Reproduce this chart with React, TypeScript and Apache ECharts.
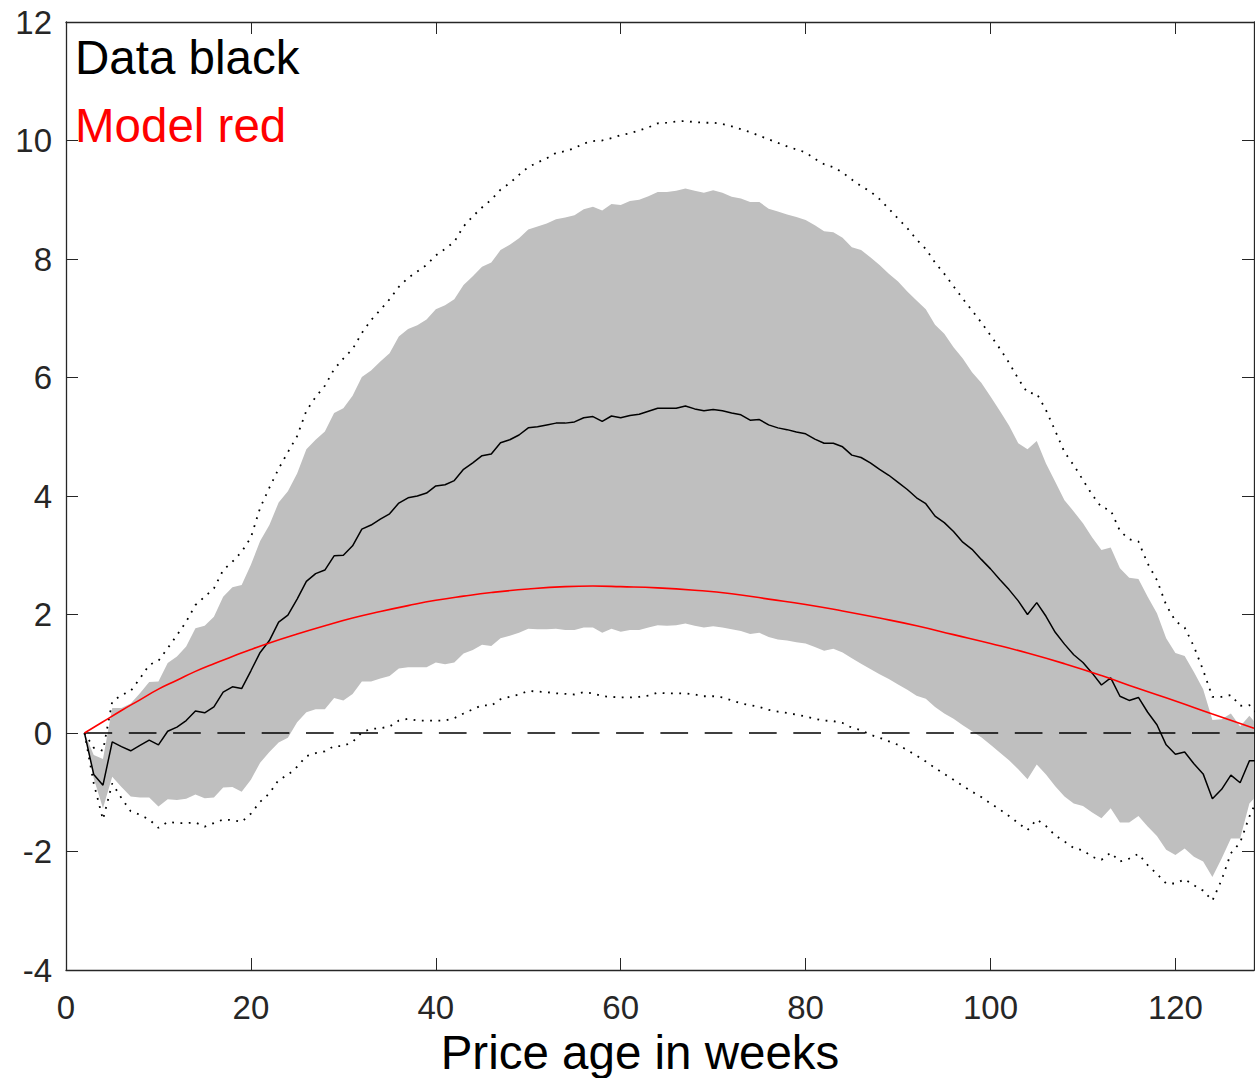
import { useEffect, useRef } from "react";
import * as echarts from "echarts";

// x: price age in weeks
const weeks = [
  2, 3, 4, 5, 6, 7, 8, 9, 10, 11, 12, 13, 14, 15, 16, 17, 18, 19, 20, 21,
  22, 23, 24, 25, 26, 27, 28, 29, 30, 31, 32, 33, 34, 35, 36, 37, 38, 39, 40, 41,
  42, 43, 44, 45, 46, 47, 48, 49, 50, 51, 52, 53, 54, 55, 56, 57, 58, 59, 60, 61,
  62, 63, 64, 65, 66, 67, 68, 69, 70, 71, 72, 73, 74, 75, 76, 77, 78, 79, 80, 81,
  82, 83, 84, 85, 86, 87, 88, 89, 90, 91, 92, 93, 94, 95, 96, 97, 98, 99, 100, 101,
  102, 103, 104, 105, 106, 107, 108, 109, 110, 111, 112, 113, 114, 115, 116, 117, 118, 119, 120, 121,
  122, 123, 124, 125, 126, 127, 128, 129,
];

// Data (black line)
const dataMean = [
  0, -0.7, -0.88, -0.15, -0.23, -0.3, -0.21, -0.12, -0.2, 0.03, 0.1, 0.21, 0.37, 0.34, 0.44, 0.69, 0.78, 0.75, 1.05, 1.36,
  1.56, 1.87, 1.99, 2.26, 2.56, 2.69, 2.75, 2.99, 3.0, 3.16, 3.44, 3.51, 3.61, 3.7, 3.88, 3.97, 4.0, 4.05, 4.17, 4.19,
  4.26, 4.45, 4.56, 4.68, 4.71, 4.9, 4.95, 5.03, 5.15, 5.17, 5.2, 5.23, 5.23, 5.25, 5.32, 5.34, 5.26, 5.35, 5.32, 5.36,
  5.38, 5.43, 5.48, 5.48, 5.48, 5.52, 5.47, 5.44, 5.46, 5.44, 5.4, 5.37, 5.28, 5.29, 5.2, 5.15, 5.12, 5.08, 5.05, 4.96,
  4.89, 4.89, 4.83, 4.69, 4.65, 4.56, 4.45, 4.35, 4.23, 4.11, 3.97, 3.87, 3.66, 3.55, 3.4, 3.22, 3.1, 2.93, 2.77, 2.59,
  2.42, 2.23, 2.0, 2.2, 1.97, 1.7, 1.5, 1.32, 1.19, 1.01, 0.81, 0.93, 0.62, 0.55, 0.6, 0.35, 0.14, -0.2, -0.36, -0.32,
  -0.52, -0.69, -1.11, -0.95, -0.71, -0.84, -0.47, -0.47,
];

// Grey band, upper edge
const bandUpper = [
  0, -0.37, -0.44, 0.42, 0.42, 0.5, 0.67, 0.86, 0.87, 1.18, 1.29, 1.46, 1.77, 1.81, 1.96, 2.3, 2.46, 2.5, 2.84, 3.24,
  3.51, 3.89, 4.08, 4.38, 4.79, 4.95, 5.09, 5.4, 5.48, 5.69, 6.01, 6.12, 6.27, 6.41, 6.69, 6.82, 6.88, 6.98, 7.15, 7.22,
  7.32, 7.56, 7.71, 7.87, 7.94, 8.15, 8.24, 8.35, 8.5, 8.55, 8.6, 8.67, 8.7, 8.74, 8.84, 8.88, 8.82, 8.93, 8.91, 8.98,
  9.0, 9.06, 9.13, 9.13, 9.15, 9.19, 9.15, 9.12, 9.16, 9.12, 9.05, 9.02, 8.96, 8.96, 8.85, 8.8, 8.75, 8.71, 8.66, 8.57,
  8.47, 8.45, 8.36, 8.2, 8.15, 8.03, 7.9, 7.75, 7.62, 7.45, 7.3, 7.15, 6.89, 6.74, 6.51, 6.32, 6.09, 5.91, 5.68, 5.44,
  5.19, 4.89, 4.79, 4.93, 4.55, 4.24, 3.93, 3.74, 3.54, 3.3, 3.09, 3.13, 2.78, 2.62, 2.6, 2.3, 2.02, 1.6, 1.35, 1.3,
  1.03, 0.74, 0.22, 0.23, 0.33, 0.11, 0.29, 0.11,
];

// Grey band, lower edge
const bandLower = [
  0, -0.77, -1.27, -0.74, -0.91, -1.07, -1.09, -1.09, -1.24, -1.12, -1.13, -1.11, -1.04, -1.1, -1.09, -0.92, -0.91, -0.99, -0.79, -0.5,
  -0.32, -0.16, -0.08, 0.18, 0.35, 0.4, 0.4, 0.59, 0.55, 0.66, 0.87, 0.87, 0.92, 0.96, 1.09, 1.11, 1.11, 1.11, 1.19, 1.16,
  1.19, 1.34, 1.4, 1.49, 1.47, 1.6, 1.64, 1.69, 1.76, 1.75, 1.75, 1.76, 1.74, 1.74, 1.78, 1.78, 1.69, 1.76, 1.71, 1.74,
  1.74, 1.78, 1.82, 1.81, 1.82, 1.85, 1.81, 1.78, 1.8, 1.78, 1.75, 1.72, 1.67, 1.69, 1.62, 1.58, 1.56, 1.53, 1.51, 1.45,
  1.39, 1.42, 1.36, 1.26, 1.17, 1.08, 0.99, 0.91, 0.82, 0.73, 0.63, 0.58, 0.44, 0.33, 0.24, 0.13, 0.03, -0.07, -0.2, -0.33,
  -0.46, -0.61, -0.78, -0.53, -0.7, -0.9, -1.07, -1.19, -1.23, -1.34, -1.44, -1.27, -1.51, -1.51, -1.4, -1.58, -1.74, -1.97, -2.06, -1.95,
  -2.09, -2.17, -2.43, -2.12, -1.78, -1.78, -1.19, -1.02,
];

// Dotted upper bound
const dotUpper = [
  0, -0.25, -0.3, 0.53, 0.64, 0.71, 0.92, 1.15, 1.22, 1.43, 1.65, 1.88, 2.16, 2.3, 2.44, 2.75, 2.89, 3.06, 3.3, 3.8,
  4.14, 4.46, 4.74, 5.01, 5.44, 5.67, 5.86, 6.14, 6.32, 6.48, 6.75, 6.97, 7.14, 7.32, 7.53, 7.68, 7.79, 7.9, 8.06, 8.17,
  8.29, 8.55, 8.72, 8.87, 9.0, 9.17, 9.28, 9.42, 9.55, 9.63, 9.7, 9.79, 9.82, 9.87, 9.95, 9.99, 10.0, 10.04, 10.09, 10.12,
  10.17, 10.22, 10.29, 10.3, 10.32, 10.33, 10.31, 10.3, 10.3, 10.28, 10.24, 10.19, 10.14, 10.08, 10.02, 9.96, 9.9, 9.85, 9.8, 9.69,
  9.6, 9.55, 9.46, 9.34, 9.23, 9.14, 9.01, 8.85, 8.68, 8.52, 8.33, 8.17, 7.94, 7.75, 7.54, 7.33, 7.13, 6.93, 6.71, 6.49,
  6.25, 5.98, 5.74, 5.73, 5.45, 5.1, 4.74, 4.52, 4.27, 4.02, 3.81, 3.76, 3.41, 3.27, 3.23, 2.86, 2.58, 2.16, 1.89, 1.78,
  1.46, 1.06, 0.61, 0.61, 0.64, 0.46, 0.47, 0.3,
];

// Dotted lower bound
const dotLower = [
  0, -0.85, -1.46, -0.85, -1.1, -1.32, -1.38, -1.46, -1.6, -1.5, -1.52, -1.52, -1.51, -1.58, -1.52, -1.46, -1.47, -1.5, -1.36, -1.16,
  -1.02, -0.79, -0.71, -0.57, -0.39, -0.34, -0.31, -0.22, -0.22, -0.15, 0.01, 0.07, 0.08, 0.11, 0.21, 0.24, 0.21, 0.21, 0.21, 0.21,
  0.25, 0.33, 0.4, 0.47, 0.46, 0.57, 0.61, 0.65, 0.71, 0.7, 0.69, 0.67, 0.66, 0.65, 0.69, 0.67, 0.62, 0.61, 0.6, 0.6,
  0.61, 0.63, 0.68, 0.67, 0.67, 0.67, 0.65, 0.62, 0.62, 0.6, 0.55, 0.5, 0.47, 0.44, 0.39, 0.36, 0.34, 0.31, 0.28, 0.24,
  0.21, 0.2, 0.17, 0.09, 0.05, -0.03, -0.08, -0.14, -0.2, -0.29, -0.38, -0.48, -0.59, -0.69, -0.79, -0.89, -0.99, -1.08, -1.19, -1.29,
  -1.4, -1.52, -1.64, -1.46, -1.57, -1.73, -1.83, -1.94, -1.98, -2.09, -2.14, -2.02, -2.17, -2.12, -2.04, -2.23, -2.38, -2.54, -2.54, -2.47,
  -2.57, -2.66, -2.83, -2.48, -2.03, -1.85, -1.41, -1.07,
];

// Model (red line)
const modelWeeks = [2, 4, 6, 8, 10, 12, 14, 16, 18, 20, 22, 25, 28, 31, 34, 37, 40, 43, 46, 50, 54, 57, 60, 64, 68, 72, 76, 80, 84, 88, 92, 96, 100, 104, 108, 112, 116, 120, 124, 128.5];
const modelValues = [0, 0.19, 0.38, 0.56, 0.74, 0.89, 1.04, 1.17, 1.29, 1.41, 1.52, 1.67, 1.81, 1.94, 2.05, 2.15, 2.24, 2.31, 2.37, 2.43, 2.47, 2.48, 2.47, 2.45, 2.41, 2.35, 2.26, 2.17, 2.06, 1.94, 1.81, 1.66, 1.51, 1.35, 1.17, 0.97, 0.75, 0.54, 0.32, 0.08];

// Zero reference line
const zeroLineX = [2, 129];
const zeroLineY = [0, 0];

const xTicks = { min: 0, max: 128.5, interval: 20 };
const yTicks = { min: -4, max: 12, interval: 2 };

const FONT = '"Liberation Sans", Arial, Helvetica, sans-serif';
const AXIS = "#262626";

const zip = (xs: number[], ys: number[]) => xs.map((x, i) => [x, ys[i]]);

export default function App() {
  const ref = useRef<HTMLDivElement>(null);

  useEffect(() => {
    document.body.style.margin = "0";
    const chart = echarts.init(ref.current!, null, { renderer: "svg" });

    const axisLine = { show: true, onZero: false, lineStyle: { color: AXIS, width: 1.3 } };
    const axisTick = { show: true, inside: true, length: 12, lineStyle: { color: AXIS, width: 1 } };

    const bandData = weeks.map((w, i) => [w, bandLower[i], bandUpper[i]]);

    const option: any = {
      animation: false,
      backgroundColor: "#ffffff",
      grid: { left: 66, right: 1, top: 22, bottom: 108, containLabel: false, outerBoundsMode: "none" },
      xAxis: [
        {
          type: "value",
          ...xTicks,
          position: "bottom",
          axisLine,
          axisTick,
          axisLabel: { fontSize: 33, fontFamily: FONT, color: AXIS, margin: 21, showMaxLabel: false, showMinLabel: true },
          splitLine: { show: false },
        },
        {
          type: "value",
          ...xTicks,
          position: "top",
          axisLine,
          axisTick,
          axisLabel: { show: false },
          splitLine: { show: false },
        },
      ],
      yAxis: [
        {
          type: "value",
          ...yTicks,
          position: "left",
          axisLine,
          axisTick,
          axisLabel: { fontSize: 33, fontFamily: FONT, color: AXIS, margin: 14 },
          splitLine: { show: false },
        },
        {
          type: "value",
          ...yTicks,
          position: "right",
          axisLine,
          axisTick,
          axisLabel: { show: false },
          splitLine: { show: false },
        },
      ],
      series: [
        {
          type: "custom",
          name: "band",
          data: bandData,
          encode: { x: 0, y: [1, 2] },
          silent: true,
          z: 1,
          renderItem: (params: any, api: any) => {
            if (params.dataIndex !== 0) return null;
            const upper = bandData.map((d) => api.coord([d[0], d[2]]));
            const lower = bandData.map((d) => api.coord([d[0], d[1]])).reverse();
            const cs = params.coordSys;
            return {
              type: "polygon",
              shape: { points: upper.concat(lower) },
              style: { fill: "#bfbfbf", stroke: null },
              clipPath: { type: "rect", shape: { x: cs.x, y: cs.y, width: cs.width, height: cs.height } },
            };
          },
        },
        {
          type: "line",
          name: "dotUpper",
          data: zip(weeks, dotUpper),
          symbol: "none",
          lineStyle: { color: "#000", width: 1.8, type: [1.8, 6.5] },
          z: 3,
        },
        {
          type: "line",
          name: "dotLower",
          data: zip(weeks, dotLower),
          symbol: "none",
          lineStyle: { color: "#000", width: 1.8, type: [1.8, 6.5] },
          z: 3,
        },
        {
          type: "line",
          name: "zero",
          data: zip(zeroLineX, zeroLineY),
          symbol: "none",
          lineStyle: { color: "#000", width: 1.6, type: [27.7, 16.6] },
          z: 3,
        },
        {
          type: "line",
          name: "Data",
          data: zip(weeks, dataMean),
          symbol: "none",
          lineStyle: { color: "#000", width: 1.5 },
          z: 4,
        },
        {
          type: "line",
          name: "Model",
          data: zip(modelWeeks, modelValues),
          symbol: "none",
          smooth: true,
          lineStyle: { color: "#ff0000", width: 1.6 },
          z: 5,
        },
      ],
      graphic: [
        {
          type: "text",
          x: 75,
          y: 57,
          style: { text: "Data black", font: `47.5px ${FONT}`, fill: "#000", align: "left", verticalAlign: "middle" },
          z: 10,
        },
        {
          type: "text",
          x: 75,
          y: 125,
          style: { text: "Model red", font: `47.5px ${FONT}`, fill: "#ff0000", align: "left", verticalAlign: "middle" },
          z: 10,
        },
        {
          type: "text",
          x: 640,
          y: 1052,
          style: { text: "Price age in weeks", font: `47.5px ${FONT}`, fill: "#000", align: "center", verticalAlign: "middle" },
          z: 10,
        },
      ],
    };

    chart.setOption(option);
    return () => chart.dispose();
  }, []);

  return (
    <div
      ref={ref}
      style={{ position: "fixed", left: 0, top: 0, width: 1255, height: 1078, background: "#fff" }}
    />
  );
}
